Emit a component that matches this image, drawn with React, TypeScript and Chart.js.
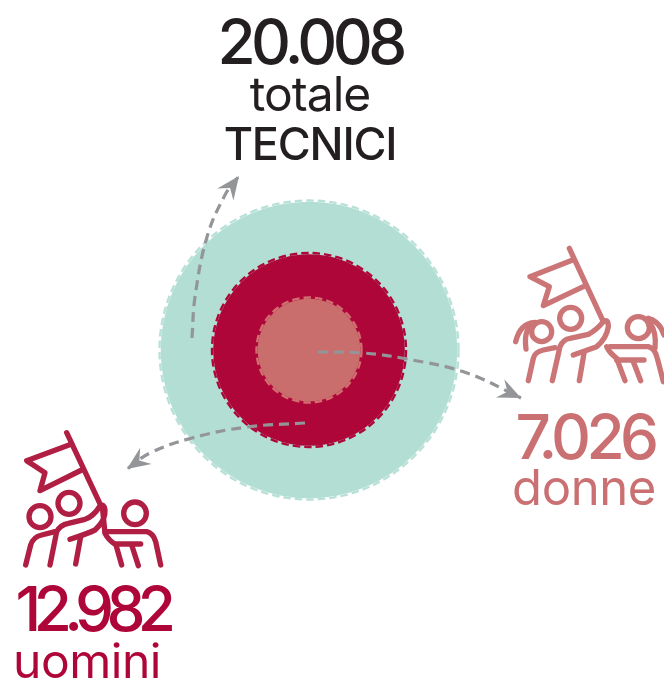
import React, { useEffect, useRef } from "react";
import { Chart, registerables } from "chart.js";

Chart.register(...registerables);

const WIDTH = 664;
const HEIGHT = 682;

// Values, nested rings
const ringNames = ["totale TECNICI", "uomini", "donne"];
const ringValues = [20008, 12982, 7026];
const ringFills = ["#b2ded3", "#ae0639", "#c96d6d"];
const ringBorders = ["#b9e1d7", "#ae0639", "#d06e70"];
const pixelsPerUnit = 149.5 / 20008;
const fillInset = 1.2;

// Arrow paths, in chart units from the ring centre (y upward)
const arrowTotale = [
  { x: -117, y: 12 }, { x: -114, y: 53 }, { x: -102, y: 113 }, { x: -84, y: 155 }, { x: -70, y: 174 },
];
const arrowDonne = [
  { x: 9, y: -2 }, { x: 54, y: -3 }, { x: 98, y: -9 }, { x: 158, y: -23 }, { x: 212, y: -48 },
];
const arrowUomini = [
  { x: -4, y: -73 }, { x: -62, y: -77 }, { x: -117, y: -88 }, { x: -159, y: -103 }, { x: -182, y: -119 },
];
const arrows = [arrowTotale, arrowDonne, arrowUomini];

// Labels
const FONT = "Inter";
const DARK = "#231f20";
const labels = [
  { text: "20.008", x: 310, y: 64, size: 62, weight: 550, color: DARK, ls: -4.6 },
  { text: "totale", x: 310, y: 111, size: 48, weight: 400, color: DARK, ls: -1 },
  { text: "TECNICI", x: 310, y: 160, size: 45, weight: 500, color: DARK, ls: -1.2 },
  { text: "7.026", x: 585, y: 459, size: 62, weight: 550, color: "#cb7072", ls: -4.6 },
  { text: "donne", x: 584, y: 505, size: 49, weight: 400, color: "#cb7072", ls: -0.4 },
  { text: "12.982", x: 92, y: 631, size: 62, weight: 550, color: "#ae0639", ls: -7.6 },
  { text: "uomini", x: 87, y: 678, size: 48, weight: 400, color: "#ae0639", ls: -0.5 },
];

// Icons, drawn at 1/3 scale from their own frame
const iconUomini = {
  ox: 10, oy: 420, color: "#b01f43",
  heads: [[90, 290, 33], [177, 250, 33], [375, 280, 34]],
  paths: [
    "M170 38 L275 262",
    "M185 72 L50 122 L105 158 L90 212 L215 150",
    "M47 435 L62 375 Q70 350 95 345 L135 335",
    "M120 435 L140 335 Q150 315 175 310 L225 298 Q250 290 270 258 Q282 250 285 270 Q288 300 255 330 Q235 340 180 358",
    "M197 432 L212 350",
    "M278 270 L285 340 Q295 360 318 375 L335 435",
    "M318 372 L392 372",
    "M365 375 L385 437",
    "M285 335 L410 335 Q430 340 437 365 L452 435",
  ],
};
const iconDonne = {
  ox: 500, oy: 235, color: "#cb7577",
  heads: [[125, 290, 30], [212, 250, 33], [415, 278, 33]],
  paths: [
    "M208 40 L310 260",
    "M218 75 L90 125 L148 155 L130 212 L250 155",
    "M105 262 Q60 265 47 320",
    "M100 270 Q70 280 78 342",
    "M445 250 Q480 260 492 300",
    "M450 265 Q470 290 465 340",
    "M85 437 L100 370 Q105 350 130 345 L165 338",
    "M157 437 L180 335 Q190 312 210 310 L265 298 Q290 285 310 260 Q325 250 325 275 Q320 310 290 335 L220 360",
    "M238 437 L252 355",
    "M320 335 Q325 350 350 370 L375 437",
    "M350 375 L432 375",
    "M400 380 L422 437",
    "M330 335 L445 335 Q465 340 472 370 L490 440",
  ],
};
const icons = [iconUomini, iconDonne];

const ringDash = [7.5, 4];
const ARROW_COLOR = "#939598";

const decorations = {
  id: "decorations",
  beforeDatasetDraw(chart: any, args: any) {
    if (args.meta.type === "bubble") chart.ctx.setLineDash(ringDash);
  },
  afterDatasetDraw(chart: any) {
    chart.ctx.setLineDash([]);
  },
  afterDatasetsDraw(chart: any) {
    const ctx = chart.ctx;
    // arrow heads
    arrows.forEach((_, i) => {
      const pts = chart.getDatasetMeta(i).data;
      const tip = pts[pts.length - 1];
      const prev = pts[pts.length - 2];
      const a = Math.atan2(tip.y - prev.y, tip.x - prev.x);
      ctx.save();
      ctx.translate(tip.x, tip.y);
      ctx.rotate(a);
      ctx.fillStyle = ARROW_COLOR;
      ctx.beginPath();
      ctx.moveTo(0, 0);
      ctx.lineTo(-23, -10);
      ctx.lineTo(-15, 0);
      ctx.lineTo(-23, 10);
      ctx.closePath();
      ctx.fill();
      ctx.restore();
    });
    // icons
    icons.forEach((icon) => {
      ctx.save();
      ctx.translate(icon.ox, icon.oy);
      ctx.scale(1 / 3, 1 / 3);
      ctx.strokeStyle = icon.color;
      ctx.lineWidth = 16;
      ctx.lineCap = "round";
      ctx.lineJoin = "round";
      icon.paths.forEach((d) => ctx.stroke(new Path2D(d)));
      icon.heads.forEach(([x, y, r]) => {
        ctx.beginPath();
        ctx.arc(x, y, r, 0, Math.PI * 2);
        ctx.stroke();
      });
      ctx.restore();
    });
    // labels
    labels.forEach((l) => {
      ctx.save();
      ctx.font = `${l.weight} ${l.size}px ${FONT}`;
      (ctx as any).letterSpacing = `${l.ls}px`;
      ctx.fillStyle = l.color;
      ctx.textAlign = "center";
      ctx.textBaseline = "alphabetic";
      ctx.fillText(l.text, l.x, l.y);
      ctx.restore();
    });
  },
};

export default function App() {
  const ref = useRef<HTMLCanvasElement>(null);
  useEffect(() => {
    const chart = new Chart(ref.current!, {
      type: "bubble",
      data: {
        datasets: [
          ...arrows.map((points) => ({
            type: "line" as const,
            data: points,
            borderColor: ARROW_COLOR,
            borderWidth: 3.2,
            borderDash: [10, 6],
            pointRadius: 0,
            tension: 0.4,
            fill: false,
          })),
          ...[2, 1, 0].flatMap((i) => [
            {
              type: "bubble" as const,
              label: ringNames[i] + " bordo",
              data: [{ x: 0, y: 0, r: ringValues[i] * pixelsPerUnit }],
              backgroundColor: "rgba(0,0,0,0)",
              borderColor: ringBorders[i],
              borderWidth: 2.4,
            },
            {
              type: "bubble" as const,
              label: ringNames[i],
              data: [{ x: 0, y: 0, r: ringValues[i] * pixelsPerUnit - fillInset }],
              backgroundColor: ringFills[i],
              borderWidth: 0,
            },
          ]),
        ],
      } as any,
      options: {
        responsive: false,
        animation: false,
        events: [],
        layout: { padding: 0, autoPadding: false },
        plugins: { legend: { display: false }, tooltip: { enabled: false } },
        scales: {
          x: { type: "linear", display: false, min: -309, max: WIDTH - 309 },
          y: { type: "linear", display: false, min: 350 - HEIGHT, max: 350 },
        },
      },
      plugins: [decorations],
    } as any);
    return () => chart.destroy();
  }, []);
  return (
    <canvas
      ref={ref}
      width={WIDTH}
      height={HEIGHT}
      style={{ position: "absolute", left: 0, top: 0, width: WIDTH, height: HEIGHT, display: "block" }}
    />
  );
}
